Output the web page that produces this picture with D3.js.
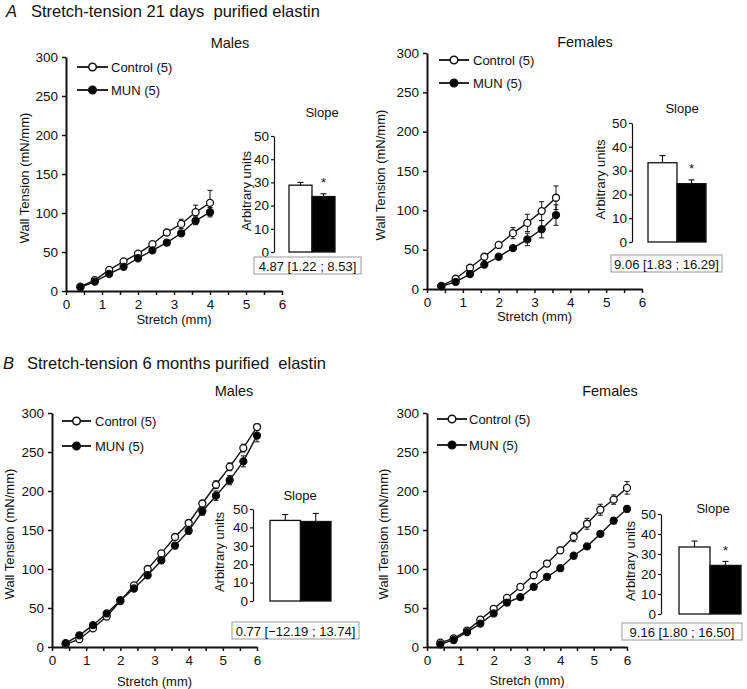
<!DOCTYPE html>
<html><head><meta charset="utf-8">
<script src="https://cdn.jsdelivr.net/npm/d3@7"></script>
<style>
body{margin:0;background:#fff;}
text{font-family:"Liberation Sans",Arial,sans-serif;fill:#111;}
</style></head>
<body>
<svg id="c" width="747" height="689"></svg>
<script>
// ---------- DATA ----------
const yTicks = [0, 50, 100, 150, 200, 250, 300];
const xTicks = [0, 1, 2, 3, 4, 5, 6];
const insetTicks = [0, 10, 20, 30, 40, 50];
const seriesNames = ["Control (5)", "MUN (5)"];

// Panel A - 21 days, males
const aMaleX = [0.4, 0.8, 1.2, 1.6, 2.0, 2.4, 2.8, 3.2, 3.6, 4.0];
const aMaleCtrl = [5.5, 14, 27, 38, 48, 60, 75, 86, 101, 113];
const aMaleCtrlErr = [1.5, 2, 2, 2, 2, 2, 3, 6, 9, 16];
const aMaleMun = [4.7, 12, 22, 31, 42, 52, 62, 74, 90, 101];
const aMaleMunErr = [1.5, 2, 2, 2, 2, 2, 3, 3, 5, 6];
const aMaleSlope = [28.8, 23.9];
const aMaleSlopeErr = [1.2, 1.2];
const aMaleCI = "4.87 [1.22 ; 8.53]";

// Panel A - 21 days, females
const aFemX = [0.4, 0.8, 1.2, 1.6, 2.0, 2.4, 2.8, 3.2, 3.6];
const aFemCtrl = [4, 13, 27, 41, 56, 71, 84, 99, 116];
const aFemCtrlErr = [1.5, 2, 2, 2, 3, 7, 11, 12, 15];
const aFemMun = [3.4, 9, 19, 31, 41, 52, 63, 76, 94];
const aFemMunErr = [1.5, 2, 2, 3, 3, 3, 8, 11, 13];
const aFemSlope = [33.3, 24.5];
const aFemSlopeErr = [3.0, 1.6];
const aFemCI = "9.06 [1.83 ; 16.29]";

// Panel B - 6 months, males
const bMaleX = [0.4, 0.8, 1.2, 1.6, 2.0, 2.4, 2.8, 3.2, 3.6, 4.0, 4.4, 4.8, 5.2, 5.6, 6.0];
const bMaleCtrl = [3.4, 10, 24, 39, 59, 79, 100, 120, 141, 159, 184, 208, 231, 255, 282];
const bMaleCtrlErr = [2, 2, 2, 2, 2, 2, 2, 3, 3, 3, 4, 5, 5, 5, 4];
const bMaleMun = [5, 15, 28, 43, 60, 75, 92, 111, 130, 149, 174, 194, 214, 238, 271];
const bMaleMunErr = [2, 2, 2, 2, 2, 3, 3, 4, 4, 4, 5, 6, 6, 7, 8];
const bMaleSlope = [43.8, 43.2];
const bMaleSlopeErr = [3.2, 4.4];
const bMaleCI = "0.77 [\u221212.19 ; 13.74]";

// Panel B - 6 months, females
const bFemX = [0.4, 0.8, 1.2, 1.6, 2.0, 2.4, 2.8, 3.2, 3.6, 4.0, 4.4, 4.8, 5.2, 5.6, 6.0];
const bFemCtrl = [5.6, 11, 21, 35, 49, 63, 77, 92, 107, 124, 141, 158, 176, 189, 204];
const bFemCtrlErr = [2, 2, 2, 2, 2, 3, 3, 3, 4, 4, 6, 7, 7, 6, 8];
const bFemMun = [3.4, 9, 19, 30, 43, 57, 64, 77, 90, 101, 117, 129, 145, 162, 177];
const bFemMunErr = [2, 2, 2, 2, 2, 3, 3, 3, 3, 3, 3, 3, 3, 4, 4];
const bFemSlope = [33.5, 24.3];
const bFemSlopeErr = [3.0, 2.0];
const bFemCI = "9.16 [1.80 ; 16.50]";

const sig = [true, true, false, true];

// ---------- LAYOUT ----------
const svg = d3.select("#c");
const FS = 13;

function txt(x, y, s, opts = {}) {
  const t = svg.append("text").attr("x", x).attr("y", y).text(s)
    .attr("font-size", opts.size || FS)
    .attr("text-anchor", opts.anchor || "start")
    .attr("dominant-baseline", opts.base || "central")
    .style("white-space", "pre");
  if (opts.italic) t.attr("font-style", "italic");
  if (opts.rotate) t.attr("transform", `rotate(-90,${x},${y})`);
  return t;
}

// titles
txt(6, 11, "A", {size: 16.5, italic: true});
txt(31, 11, "Stretch-tension 21 days  purified elastin", {size: 16.5});
txt(3, 363, "B", {size: 16.5, italic: true});
txt(27, 363, "Stretch-tension 6 months purified  elastin", {size: 16.5});

const panels = [
  {x: aMaleX, c: aMaleCtrl, ce: aMaleCtrlErr, m: aMaleMun, me: aMaleMunErr, s: aMaleSlope, se: aMaleSlopeErr, ci: aMaleCI, title: "Males",
   L: {x0: 66, x6: 282, y0: 291, y300: 57, tx: 230, ty: 43, ylx: 24, xly: 319,
       lg: {x1: 77, x2: 108, y1: 67, y2: 90, tx: 111},
       ins: {ax: 274, y50: 136, y0: 252, b0: 289, b1: 335, sx: 322, sy: 112, alx: 246, box: [254, 257, 361, 274]}}},
  {x: aFemX, c: aFemCtrl, ce: aFemCtrlErr, m: aFemMun, me: aFemMunErr, s: aFemSlope, se: aFemSlopeErr, ci: aFemCI, title: "Females",
   L: {x0: 427, x6: 642, y0: 289, y300: 53, tx: 585, ty: 42, ylx: 380, xly: 316,
       lg: {x1: 439, x2: 469, y1: 60, y2: 83, tx: 473},
       ins: {ax: 632, y50: 123, y0: 242, b0: 648, b1: 706, sx: 682, sy: 108, alx: 600, box: [611, 255, 722, 272]}}},
  {x: bMaleX, c: bMaleCtrl, ce: bMaleCtrlErr, m: bMaleMun, me: bMaleMunErr, s: bMaleSlope, se: bMaleSlopeErr, ci: bMaleCI, title: "Males",
   L: {x0: 52, x6: 257, y0: 647, y300: 413, tx: 234, ty: 391, ylx: 9, xly: 681,
       lg: {x1: 62, x2: 91, y1: 421, y2: 446, tx: 95},
       ins: {ax: 253, y50: 509, y0: 601, b0: 270, b1: 331, sx: 300, sy: 495, alx: 219, box: [232, 622, 359, 639]}}},
  {x: bFemX, c: bFemCtrl, ce: bFemCtrlErr, m: bFemMun, me: bFemMunErr, s: bFemSlope, se: bFemSlopeErr, ci: bFemCI, title: "Females",
   L: {x0: 427, x6: 627, y0: 647, y300: 413, tx: 610, ty: 391, ylx: 383, xly: 680,
       lg: {x1: 437, x2: 467, y1: 419, y2: 445, tx: 469},
       ins: {ax: 661, y50: 514, y0: 614, b0: 679, b1: 741, sx: 713, sy: 508, alx: 630, box: [622, 623, 742, 640]}}}
];

panels.forEach((p, pi) => {
  const L = p.L;
  const x = d3.scaleLinear().domain([0, 6]).range([L.x0, L.x6]);
  const y = d3.scaleLinear().domain([0, 300]).range([L.y0, L.y300]);

  const ya = svg.append("g").attr("transform", `translate(${L.x0},0)`)
    .call(d3.axisLeft(y).tickValues(yTicks).tickSize(4).tickSizeOuter(0).tickPadding(4));
  const xa = svg.append("g").attr("transform", `translate(0,${L.y0})`)
    .call(d3.axisBottom(x).tickValues(d3.range(0, 6.01, 0.5)).tickSize(4).tickSizeOuter(0).tickPadding(4)
      .tickFormat(d => Number.isInteger(d) ? d : ""));
  [ya, xa].forEach(g => {
    g.select(".domain").attr("stroke", "#111").attr("stroke-width", 2);
    g.selectAll(".tick line").attr("stroke", "#111").attr("stroke-width", 1.5);
    g.selectAll(".tick text").attr("font-size", 13.5).attr("fill", "#111")
      .attr("font-family", '"Liberation Sans",Arial,sans-serif');
  });

  txt((L.x0 + L.x6) / 2, L.xly, "Stretch (mm)", {anchor: "middle"});
  txt(L.ylx, (L.y0 + L.y300) / 2 + 4, "Wall Tension (mN/mm)", {anchor: "middle", rotate: true});
  txt(L.tx, L.ty, p.title, {anchor: "middle", size: 14.5});

  const line = d3.line().x(d => x(d[0])).y(d => y(d[1]));
  const series = [
    {v: p.c, e: p.ce, fill: "#fff"},
    {v: p.m, e: p.me, fill: "#000"}
  ];
  series.forEach(s => {
    svg.append("path").datum(p.x.map((xx, i) => [xx, s.v[i]]))
      .attr("d", line).attr("fill", "none").attr("stroke", "#111").attr("stroke-width", 1.4);
  });
  series.forEach(s => {
    const g = svg.append("g").attr("stroke", "#111").attr("stroke-width", 1);
    p.x.forEach((xx, i) => {
      const cx = x(xx), lo = y(s.v[i] - s.e[i]), hi = y(s.v[i] + s.e[i]);
      g.append("line").attr("x1", cx).attr("x2", cx).attr("y1", lo).attr("y2", hi);
      g.append("line").attr("x1", cx - 2.5).attr("x2", cx + 2.5).attr("y1", lo).attr("y2", lo);
      g.append("line").attr("x1", cx - 2.5).attr("x2", cx + 2.5).attr("y1", hi).attr("y2", hi);
    });
  });
  series.forEach(s => {
    svg.append("g").selectAll("circle").data(p.x.map((xx, i) => [xx, s.v[i]])).join("circle")
      .attr("cx", d => x(d[0])).attr("cy", d => y(d[1])).attr("r", 3.5)
      .attr("fill", s.fill).attr("stroke", "#111").attr("stroke-width", 1.3);
  });

  [[L.lg.y1, "#fff", seriesNames[0]], [L.lg.y2, "#000", seriesNames[1]]].forEach(([ly, f, name]) => {
    svg.append("line").attr("x1", L.lg.x1).attr("x2", L.lg.x2).attr("y1", ly).attr("y2", ly)
      .attr("stroke", "#111").attr("stroke-width", 1.8);
    svg.append("circle").attr("cx", (L.lg.x1 + L.lg.x2) / 2).attr("cy", ly).attr("r", 3.8)
      .attr("fill", f).attr("stroke", "#111").attr("stroke-width", 1.5);
    txt(L.lg.tx, ly, name);
  });

  const I = L.ins;
  const iy = d3.scaleLinear().domain([0, 50]).range([I.y0, I.y50]);
  const ix = d3.scaleBand().domain(seriesNames).range([I.b0, I.b1]).padding(0);
  const ia = svg.append("g").attr("transform", `translate(${I.ax},0)`)
    .call(d3.axisLeft(iy).tickValues(insetTicks).tickSize(3).tickSizeOuter(0).tickPadding(2));
  ia.select(".domain").attr("stroke", "#111").attr("stroke-width", 1.2);
  ia.selectAll(".tick line").attr("stroke", "#111").attr("stroke-width", 1.2);
  ia.selectAll(".tick text").attr("font-size", 13.5).attr("fill", "#111")
    .attr("font-family", '"Liberation Sans",Arial,sans-serif');
  seriesNames.forEach((n, i) => {
    const bx = ix(n), bw = ix.bandwidth(), top = iy(p.s[i]);
    const et = iy(p.s[i] + p.se[i]), cx = bx + bw / 2;
    svg.append("line").attr("x1", cx).attr("x2", cx).attr("y1", top).attr("y2", et)
      .attr("stroke", "#111").attr("stroke-width", 1.1);
    svg.append("line").attr("x1", cx - 3).attr("x2", cx + 3).attr("y1", et).attr("y2", et)
      .attr("stroke", "#111").attr("stroke-width", 1.1);
    svg.append("rect").attr("x", bx).attr("y", top).attr("width", bw).attr("height", I.y0 - top)
      .attr("fill", i === 0 ? "#fff" : "#000").attr("stroke", "#111").attr("stroke-width", 1.3);
  });
  if (sig[pi]) {
    const n = seriesNames[1];
    txt(ix(n) + ix.bandwidth() / 2, iy(p.s[1] + p.se[1]) - 11, "*", {anchor: "middle", size: 13});
  }
  txt(I.sx, I.sy, "Slope", {anchor: "middle"});
  txt(I.alx, (I.y0 + I.y50) / 2 - 3, "Arbitrary units", {anchor: "middle", rotate: true});
  const [bx0, by0, bx1, by1] = I.box;
  svg.append("rect").attr("x", bx0).attr("y", by0).attr("width", bx1 - bx0).attr("height", by1 - by0)
    .attr("fill", "#fff").attr("stroke", "#999").attr("stroke-width", 1);
  txt((bx0 + bx1) / 2, (by0 + by1) / 2 + 0.5, p.ci, {anchor: "middle"});
});
</script>
</body></html>
